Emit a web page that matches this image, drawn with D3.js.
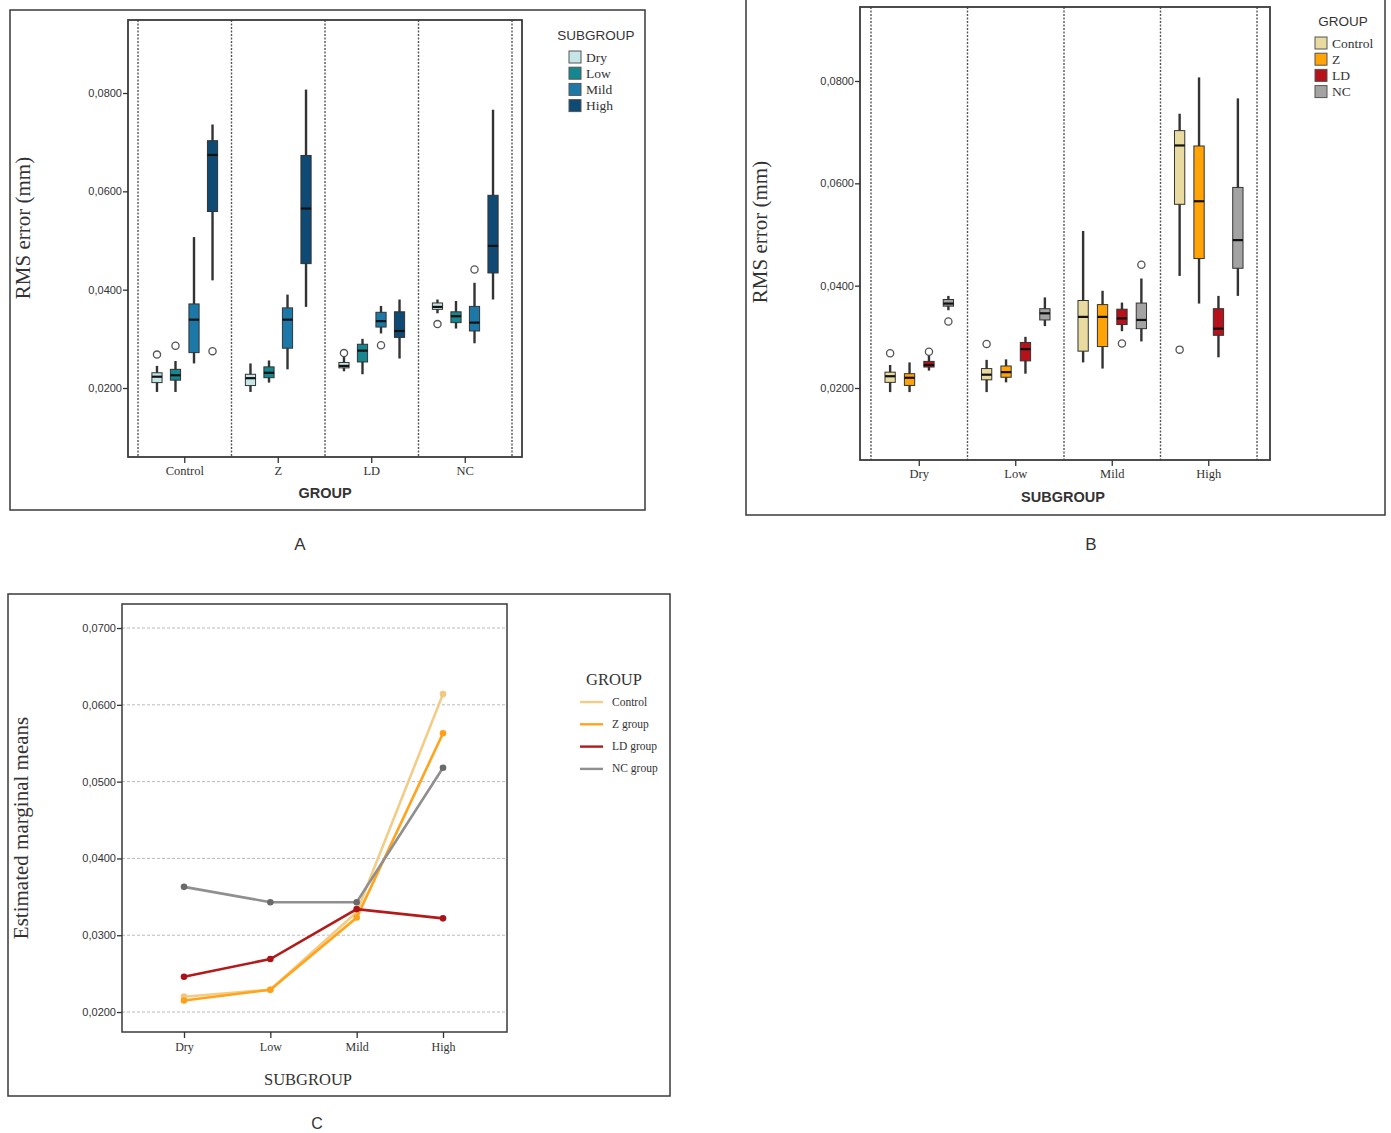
<!DOCTYPE html>
<html>
<head>
<meta charset="utf-8">
<script src="https://cdn.jsdelivr.net/npm/d3@7"></script>
<style>
	body { margin: 0; background: #fff; }
	text { fill: #333; }
</style>
</head>
<body>
<script>
// categories
var groups		= ["Control", "Z", "LD", "NC"],
	subgroups	= ["Dry", "Low", "Mild", "High"],
	lineLabels	= ["Control", "Z group", "LD group", "NC group"];

// box stats per subgroup: [whisker low, q1, median, q3, whisker high]
var controlBoxes = [[0.0192, 0.0211, 0.0223, 0.0231, 0.0245], [0.0192, 0.0216, 0.0226, 0.0238, 0.0255], [0.0250, 0.0272, 0.0339, 0.0371, 0.0507], [0.0419, 0.0559, 0.0674, 0.0703, 0.0736]];
var zBoxes       = [[0.0192, 0.0205, 0.0220, 0.0228, 0.0250], [0.0211, 0.0221, 0.0231, 0.0243, 0.0256], [0.0238, 0.0281, 0.0339, 0.0363, 0.0390], [0.0365, 0.0453, 0.0565, 0.0673, 0.0807]];
var ldBoxes      = [[0.0234, 0.0241, 0.0245, 0.0252, 0.0264], [0.0228, 0.0253, 0.0276, 0.0289, 0.0300], [0.0311, 0.0324, 0.0336, 0.0354, 0.0367], [0.0260, 0.0303, 0.0316, 0.0355, 0.0380]];
var ncBoxes      = [[0.0352, 0.0360, 0.0365, 0.0373, 0.0380], [0.0321, 0.0333, 0.0346, 0.0355, 0.0377], [0.0291, 0.0316, 0.0333, 0.0366, 0.0414], [0.0380, 0.0434, 0.0489, 0.0592, 0.0766]];

// outliers: [group, subgroup, value]
var outliers = [["Control", "Dry", 0.0268], ["Control", "Low", 0.0286], ["Control", "High", 0.0275],
	["LD", "Dry", 0.0271], ["LD", "Mild", 0.0287], ["NC", "Dry", 0.0330], ["NC", "Mild", 0.0441]];

// estimated marginal means (Dry, Low, Mild, High)
var controlMeans = [0.0220, 0.0229, 0.0330, 0.0614],
	zMeans       = [0.0215, 0.0229, 0.0323, 0.0563],
	ldMeans      = [0.0246, 0.0269, 0.0334, 0.0322],
	ncMeans      = [0.0363, 0.0343, 0.0343, 0.0518];

var boxTicks	= [0.02, 0.04, 0.06, 0.08],
	meanTicks	= [0.02, 0.03, 0.04, 0.05, 0.06, 0.07];

var allBoxes	= [controlBoxes, zBoxes, ldBoxes, ncBoxes],
	allMeans	= [controlMeans, zMeans, ldMeans, ncMeans];

var subColors	= ["#c6e5e7", "#16868f", "#1c79a7", "#0f4a74"],
	groupColors	= ["#e9dba0", "#ffa306", "#b5121b", "#a3a3a3"],
	lineColors	= ["#f3cd88", "#ffa41c", "#b31b1b", "#8f8f8f"],
	dotColors	= ["#f0c880", "#ffa01a", "#a8141a", "#6a6a6a"];

var serif	= "'Liberation Serif', 'DejaVu Serif', serif",
	sans	= "'Liberation Sans', Arial, sans-serif";

var fmt = function(d) { return d3.format(".4f")(d).replace(".", ","); };

var svg = d3.select("body")
	.append("svg")
	.attr("width", 1391)
	.attr("height", 1133);

function frame(x, y, w, h, sw) {
	svg.append("rect")
		.attr("x", x).attr("y", y)
		.attr("width", w).attr("height", h)
		.attr("fill", "none")
		.attr("stroke", "#3a3a3a")
		.attr("stroke-width", sw);
}

function yAxis(y, left, ticks) {
	var g = svg.append("g")
		.attr("transform", "translate(" + left + ",0)")
		.call(d3.axisLeft(y).tickValues(ticks).tickFormat(fmt).tickSize(5).tickPadding(1));
	g.select(".domain").remove();
	g.selectAll("line").attr("stroke", "#333").attr("stroke-width", 1.3);
	g.selectAll("text").style("font-family", sans).style("font-size", "11px").attr("fill", "#333");
}

function xAxis(x, bottom) {
	var g = svg.append("g")
		.attr("transform", "translate(0," + bottom + ")")
		.call(d3.axisBottom(x).tickSize(6).tickPadding(3));
	g.select(".domain").remove();
	g.selectAll("line").attr("stroke", "#333").attr("stroke-width", 1.3);
	g.selectAll("text").style("font-family", serif).style("font-size", "12.5px").attr("fill", "#444");
}

function boxPlot(y, cx, w, s, fill) {
	var g = svg.append("g");
	g.append("line")
		.attr("x1", cx).attr("x2", cx)
		.attr("y1", y(s[0])).attr("y2", y(s[4]))
		.attr("stroke", "#333")
		.attr("stroke-width", 2.4);
	g.append("rect")
		.attr("x", cx - w / 2).attr("y", y(s[3]))
		.attr("width", w).attr("height", y(s[1]) - y(s[3]))
		.attr("fill", fill)
		.attr("stroke", "#333")
		.attr("stroke-width", 1);
	g.append("line")
		.attr("x1", cx - w / 2).attr("x2", cx + w / 2)
		.attr("y1", y(s[2])).attr("y2", y(s[2]))
		.attr("stroke", "#111")
		.attr("stroke-width", 2.2);
}

function outlier(y, cx, v) {
	svg.append("circle")
		.attr("cx", cx).attr("cy", y(v))
		.attr("r", 3.6)
		.attr("fill", "#fff")
		.attr("stroke", "#555")
		.attr("stroke-width", 1.3);
}

function dividers(x, top, bottom) {
	var edges = x.domain().map(function(d) { return x(d); });
	edges.push(x.range()[1]);
	svg.selectAll(null)
		.data(edges)
		.enter().append("line")
		.attr("x1", function(d) { return d; })
		.attr("x2", function(d) { return d; })
		.attr("y1", top).attr("y2", bottom)
		.attr("stroke", "#555")
		.attr("stroke-width", 1.4)
		.attr("stroke-dasharray", "2,1.5");
}

function label(x, y, txt, font, size, weight, rotate) {
	var t = svg.append("text")
		.attr("text-anchor", "middle")
		.style("font-family", font)
		.style("font-size", size + "px")
		.style("font-weight", weight || "normal")
		.text(txt);
	if (rotate) t.attr("transform", "translate(" + x + "," + y + ") rotate(-90)");
	else t.attr("x", x).attr("y", y);
	return t;
}

function swatchLegend(x, y, title, names, colors, titleX) {
	label(titleX, y, title, sans, 13.5).attr("fill", "#444");
	names.forEach(function(n, i) {
		var cy = y + 17 + i * 16.2;
		svg.append("rect")
			.attr("x", x).attr("y", cy - 6)
			.attr("width", 12).attr("height", 12)
			.attr("fill", colors[i])
			.attr("stroke", "#555")
			.attr("stroke-width", 1);
		svg.append("text")
			.attr("x", x + 17).attr("y", cy + 4.5)
			.style("font-family", serif)
			.style("font-size", "13.5px")
			.attr("fill", "#444")
			.text(n);
	});
}

// ---------- A: boxes by GROUP ----------
var yA = d3.scaleLinear().domain([0.00597, 0.09485]).range([457, 20]);
var xA = d3.scaleBand().domain(groups).range([138, 512]);
var xAin = d3.scaleBand().domain(subgroups).range([0, xA.bandwidth()]).paddingInner(0.45).paddingOuter(0.75);

frame(10, 10, 635, 500, 1.5);
dividers(xA, 20, 457);
groups.forEach(function(g, gi) {
	subgroups.forEach(function(s, si) {
		boxPlot(yA, xA(g) + xAin(s) + xAin.bandwidth() / 2, xAin.bandwidth(), allBoxes[gi][si], subColors[si]);
	});
});
outliers.forEach(function(o) {
	outlier(yA, xA(o[0]) + xAin(o[1]) + xAin.bandwidth() / 2, o[2]);
});
frame(128, 20, 394, 437, 1.8);
yAxis(yA, 128, boxTicks);
xAxis(xA, 457);
label(30, 228, "RMS error (mm)", serif, 21, "normal", true);
label(325, 498, "GROUP", sans, 14.5, "bold");
swatchLegend(569, 40, "SUBGROUP", subgroups, subColors, 596);
label(300, 550, "A", sans, 17);

// ---------- B: boxes by SUBGROUP ----------
var yB = d3.scaleLinear().domain([0.00593, 0.09446]).range([460, 7]);
var xB = d3.scaleBand().domain(subgroups).range([871, 1257]);
var xBin = d3.scaleBand().domain(groups).range([0, xB.bandwidth()]).paddingInner(0.47).paddingOuter(0.72);

frame(746, -1, 639, 516, 1.5);
dividers(xB, 7, 460);
subgroups.forEach(function(s, si) {
	groups.forEach(function(g, gi) {
		boxPlot(yB, xB(s) + xBin(g) + xBin.bandwidth() / 2, xBin.bandwidth(), allBoxes[gi][si], groupColors[gi]);
	});
});
outliers.forEach(function(o) {
	outlier(yB, xB(o[1]) + xBin(o[0]) + xBin.bandwidth() / 2, o[2]);
});
frame(860, 7, 410, 453, 1.8);
yAxis(yB, 860, boxTicks);
xAxis(xB, 460);
label(767, 232, "RMS error (mm)", serif, 21, "normal", true);
label(1063, 502, "SUBGROUP", sans, 14.5, "bold");
swatchLegend(1315, 26, "GROUP", groups, groupColors, 1343);
label(1091, 550, "B", sans, 17);

// ---------- C: estimated marginal means ----------
var yC = d3.scaleLinear().domain([0.0174, 0.07313]).range([1032, 604]);
var xC = d3.scalePoint().domain(subgroups).range([184, 443]);

frame(8, 594, 662, 502, 1.5);
svg.selectAll(null)
	.data(meanTicks)
	.enter().append("line")
	.attr("x1", 122).attr("x2", 507)
	.attr("y1", function(d) { return yC(d); })
	.attr("y2", function(d) { return yC(d); })
	.attr("stroke", "#bbb")
	.attr("stroke-width", 1)
	.attr("stroke-dasharray", "3,2");

var line = d3.line()
	.x(function(d, i) { return xC(subgroups[i]); })
	.y(function(d) { return yC(d); });

allMeans.forEach(function(m, gi) {
	svg.append("path")
		.datum(m)
		.attr("d", line)
		.attr("fill", "none")
		.attr("stroke", lineColors[gi])
		.attr("stroke-width", 2.6);
	svg.selectAll(null)
		.data(m)
		.enter().append("circle")
		.attr("cx", function(d, i) { return xC(subgroups[i]); })
		.attr("cy", function(d) { return yC(d); })
		.attr("r", 3.3)
		.attr("fill", dotColors[gi]);
});

frame(122, 604, 385, 428, 1.5);
yAxis(yC, 122, meanTicks);
var gC = svg.append("g")
	.attr("transform", "translate(0,1032)")
	.call(d3.axisBottom(xC).tickSize(6).tickPadding(4));
gC.select(".domain").remove();
gC.selectAll("line").attr("stroke", "#333").attr("stroke-width", 1.3);
gC.selectAll("text").style("font-family", serif).style("font-size", "12px").attr("fill", "#444");

label(28, 828, "Estimated marginal means", serif, 21, "normal", true);
label(308, 1085, "SUBGROUP", serif, 16.5);

label(614, 685, "GROUP", serif, 16.5);
lineLabels.forEach(function(n, i) {
	var ly = 702 + i * 22.3;
	svg.append("line")
		.attr("x1", 580).attr("x2", 603)
		.attr("y1", ly).attr("y2", ly)
		.attr("stroke", lineColors[i])
		.attr("stroke-width", 2.4);
	svg.append("text")
		.attr("x", 612).attr("y", ly + 3.5)
		.style("font-family", serif)
		.style("font-size", "11.5px")
		.attr("fill", "#444")
		.text(n);
});
label(317, 1129, "C", sans, 16);
</script>
</body>
</html>
